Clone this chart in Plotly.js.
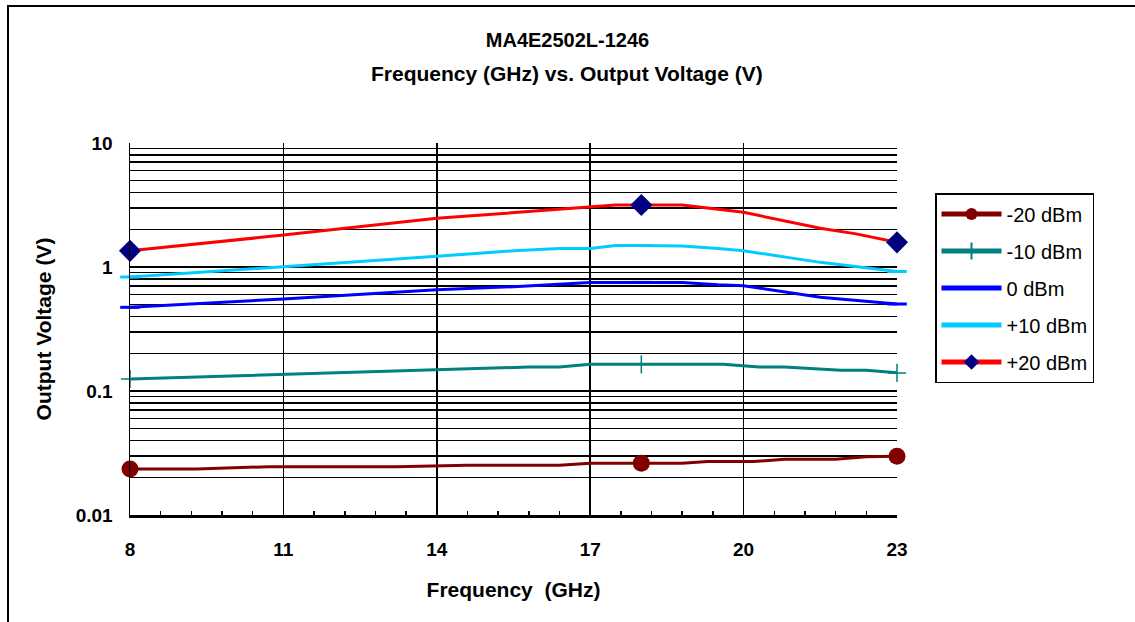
<!DOCTYPE html>
<html>
<head>
<meta charset="utf-8">
<script src="https://cdn.plot.ly/plotly-3.0.1.min.js"></script>
<style>
  html, body { margin: 0; padding: 0; background: #fff; }
  #wrap { position: relative; width: 1135px; height: 622px; }
  #chart { width: 1135px; height: 622px; }
  #frame { position: absolute; left: 7px; top: 5px; width: 1140px; height: 630px;
           border: 2px solid #000; pointer-events: none; box-sizing: border-box; }
</style>
</head>
<body>
<div id="wrap">
  <div id="chart"></div>
  <div id="frame"></div>
</div>
<script>
// ---- Data ----
const seriesNames = ['-20 dBm', '-10 dBm', '0 dBm', '+10 dBm', '+20 dBm'];

const freqM20 = [8, 9.3, 10.7, 13.2, 14.6, 16.4, 17, 18, 18.8, 19.3, 20.2, 20.8, 21.8, 22.4, 23];
const voltM20 = [0.0235, 0.0235, 0.0245, 0.0245, 0.0252, 0.0252, 0.0262, 0.0262, 0.0262, 0.027, 0.027, 0.0282, 0.0282, 0.0295, 0.0298];

const freqM10 = [8, 11, 14, 15.8, 16.4, 17, 18, 19.6, 20.3, 20.8, 21.9, 22.4, 23];
const voltM10 = [0.125, 0.136, 0.148, 0.156, 0.156, 0.164, 0.164, 0.164, 0.156, 0.156, 0.147, 0.147, 0.14];

const freq0 = [8, 11, 14, 15.5, 17, 18, 18.8, 19.5, 20, 21.5, 23];
const volt0 = [0.473, 0.552, 0.656, 0.694, 0.751, 0.751, 0.751, 0.72, 0.707, 0.57, 0.503];

const freqP10 = [8, 11, 14, 15.5, 16.4, 17, 17.5, 18, 18.8, 19.5, 20, 21.5, 23];
const voltP10 = [0.83, 1.0, 1.22, 1.35, 1.41, 1.41, 1.49, 1.49, 1.48, 1.41, 1.35, 1.09, 0.92];

const freqP20 = [8, 11, 14, 15.5, 17, 17.5, 18, 18.8, 20, 21.5, 22.2, 23];
const voltP20 = [1.35, 1.81, 2.47, 2.75, 3.08, 3.16, 3.16, 3.16, 2.76, 2.05, 1.85, 1.58];

const markerFreqs = [8, 18, 23];   // frequencies where symbols are drawn
const xTickVals = [8, 11, 14, 17, 20, 23];
const yTickVals = [0.01, 0.1, 1, 10];
const yTickText = ['0.01', '0.1', '1', '10'];

const titleLine1 = 'MA4E2502L-1246';
const titleLine2 = 'Frequency (GHz) vs. Output Voltage (V)';

// ---- Build traces ----
function sizes(freqs, s) { return freqs.map(f => markerFreqs.includes(f) ? s : 0); }

const FONT = 'Liberation Sans, Arial, sans-serif';

const specs = [
  { x: freqM20, y: voltM20, color: '#800000', symbol: 'circle', size: 17, mline: { width: 0 } },
  { x: freqM10, y: voltM10, color: '#008080', symbol: 'cross-thin', size: 13, mline: { width: 1.5, color: '#008080' } },
  { x: freq0,   y: volt0,   color: '#0000FF', symbol: 'line-ew', size: 14, mline: { width: 3, color: '#0000FF' } },
  { x: freqP10, y: voltP10, color: '#00CCFF', symbol: 'line-ew', size: 14, mline: { width: 3, color: '#00CCFF' } },
  { x: freqP20, y: voltP20, color: '#FF0000', symbol: 'diamond', size: 17, mline: { width: 0 }, mcolor: '#000080' }
];

const traces = specs.map((s, i) => ({
  type: 'scatter',
  mode: 'lines+markers',
  name: seriesNames[i],
  legendgroup: 'g' + i,
  x: s.x,
  y: s.y,
  line: { color: s.color, width: 3 },
  marker: { symbol: s.symbol, size: sizes(s.x, s.size), color: s.mcolor || s.color, line: s.mline, opacity: 1 },
  cliponaxis: false
}));

const layout = {
  width: 1135,
  height: 622,
  paper_bgcolor: '#fff',
  plot_bgcolor: '#fff',
  margin: { l: 130, r: 238, t: 143, b: 107 },
  font: { family: FONT, color: '#000', size: 16 },
  title: {
    text: '<b>' + titleLine1 + '</b>',
    font: { family: FONT, size: 20, color: '#000' },
    x: 0.5, xref: 'container', xanchor: 'center',
    y: 1 - 40 / 622, yref: 'container', yanchor: 'middle'
  },
  annotations: [{
    text: '<b>' + titleLine2 + '</b>',
    font: { family: FONT, size: 21, color: '#000' },
    xref: 'paper', yref: 'paper',
    x: (567 - 130) / 767, y: 1 + (143 - 74) / 372,
    xanchor: 'center', yanchor: 'middle', showarrow: false
  }],
  xaxis: {
    range: [8, 23],
    tickmode: 'array',
    tickvals: xTickVals,
    ticktext: xTickVals.map(v => '<b>' + v + '</b>'),
    tickfont: { family: FONT, size: 19, color: '#000' },
    ticks: 'inside', ticklen: 5, tickwidth: 1.5, tickcolor: '#000',
    ticklabelstandoff: 15,
    showgrid: true, gridcolor: '#000', gridwidth: 1.5,
    showline: true, linecolor: '#000', linewidth: 3,
    zeroline: false,
    minor: { dtick: 0.6, tick0: 8, ticks: 'inside', ticklen: 4, tickwidth: 1.5, tickcolor: '#000', showgrid: false },
    title: { text: '<b>Frequency  (GHz)</b>', font: { family: FONT, size: 21, color: '#000' }, standoff: 24 }
  },
  yaxis: {
    type: 'log',
    range: [-2, 1],
    tickmode: 'array',
    tickvals: yTickVals,
    ticktext: yTickText.map(t => '<b>' + t + '</b>'),
    tickfont: { family: FONT, size: 19, color: '#000' },
    ticks: '', ticklabelstandoff: 12,
    showgrid: true, gridcolor: '#000', gridwidth: 1.5,
    showline: true, linecolor: '#000', linewidth: 1.5,
    zeroline: false,
    minor: { dtick: 'D1', showgrid: true, gridcolor: '#000', gridwidth: 1.5, ticks: '' },
    title: { text: '<b>Output Voltage (V)</b>', font: { family: FONT, size: 21, color: '#000' }, standoff: 18 }
  },
  showlegend: true,
  legend: {
    x: (935 - 130) / 767, xanchor: 'left',
    y: 1 - (193 - 143) / 372, yanchor: 'top',
    bgcolor: '#fff',
    bordercolor: '#000', borderwidth: 1.5,
    font: { family: FONT, size: 20, color: '#000' },
    tracegroupgap: 8,
    itemsizing: 'constant',
    itemwidth: 60
  }
};

Plotly.newPlot('chart', traces, layout, { displayModeBar: false, staticPlot: true });
</script>
</body>
</html>
